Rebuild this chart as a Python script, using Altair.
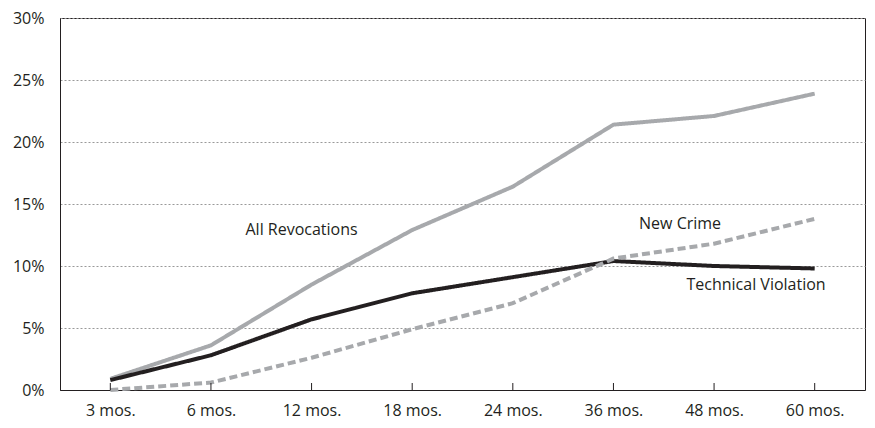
import altair as alt
import pandas as pd

categories = ["3 mos.", "6 mos.", "12 mos.", "18 mos.", "24 mos.", "36 mos.", "48 mos.", "60 mos."]
all_revocations = [0.9, 3.6, 8.5, 12.9, 16.4, 21.4, 22.1, 23.9]
technical_violation = [0.8, 2.8, 5.7, 7.8, 9.1, 10.4, 10.0, 9.8]
new_crime = [0.0, 0.6, 2.6, 4.9, 7.0, 10.6, 11.8, 13.8]

series_names = ["All Revocations", "Technical Violation", "New Crime"]
series_colors = ["#a7a9ac", "#231f20", "#a7a9ac"]
series_dash = [[1, 0], [1, 0], [8, 4]]

label_text = ["All Revocations", "New Crime", "Technical Violation"]
label_cat = ["12 mos.", "48 mos.", "48 mos."]
label_val = [12.9, 13.4, 8.5]
label_dx = [-10, -34, 42]

rows = []
for name, vals in zip(series_names, [all_revocations, technical_violation, new_crime]):
    for c, v in zip(categories, vals):
        rows.append({"cat": c, "value": v / 100, "series": name})
df = pd.DataFrame(rows)

labels_df = pd.DataFrame({"cat": label_cat, "value": [v / 100 for v in label_val],
                          "text": label_text})
cats_df = pd.DataFrame({"cat": categories})

W, H = 805, 372
FONT = "Open Sans"
FS = 16

x_enc = alt.X("cat:N", sort=categories, title=None,
              scale=alt.Scale(type="point", padding=0.5),
              axis=alt.Axis(labelAngle=0, ticks=False, labelPadding=12, domain=True,
                            domainColor="#231f20", labelFontSize=FS, labelColor="#231f20",
                            labelFont=FONT, grid=False))
y_scale = alt.Scale(domain=[0, 0.30])

lines = alt.Chart(df).mark_line(strokeWidth=4).encode(
    x=x_enc,
    y=alt.Y("value:Q", scale=y_scale, title=None,
            axis=alt.Axis(format=".0%", values=[0, 0.05, 0.10, 0.15, 0.20, 0.25, 0.30],
                          ticks=False, labelPadding=16, domainColor="#231f20",
                          labelFontSize=FS, labelColor="#231f20", labelFont=FONT,
                          grid=True, gridColor="#999999", gridDash=[2, 2], gridWidth=1)),
    color=alt.Color("series:N", scale=alt.Scale(domain=series_names, range=series_colors), legend=None),
    strokeDash=alt.StrokeDash("series:N", scale=alt.Scale(domain=series_names, range=series_dash), legend=None),
    detail="series:N",
)

ticks = alt.Chart(cats_df).mark_rule(color="#231f20", strokeWidth=1).encode(
    x=alt.X("cat:N", sort=categories, scale=alt.Scale(type="point", padding=0.5)),
    y=alt.value(H - 7),
    y2=alt.value(H),
)

text_layers = []
for t, d in zip(label_text, label_dx):
    sub = labels_df[labels_df["text"] == t]
    text_layers.append(
        alt.Chart(sub).mark_text(fontSize=FS, font=FONT, color="#231f20", dx=d).encode(
            x=alt.X("cat:N", sort=categories, scale=alt.Scale(type="point", padding=0.5)),
            y=alt.Y("value:Q", scale=y_scale),
            text="text:N",
        )
    )

chart = alt.layer(lines, ticks, *text_layers).properties(
    width=W, height=H,
    background="white",
    autosize=alt.AutoSizeParams(type="none"),
    padding={"left": 52, "top": 10, "right": 2, "bottom": 29},
).configure_view(stroke="#231f20", strokeWidth=1)

chart.save("out.html", embed_options={"renderer": "svg", "actions": False})
